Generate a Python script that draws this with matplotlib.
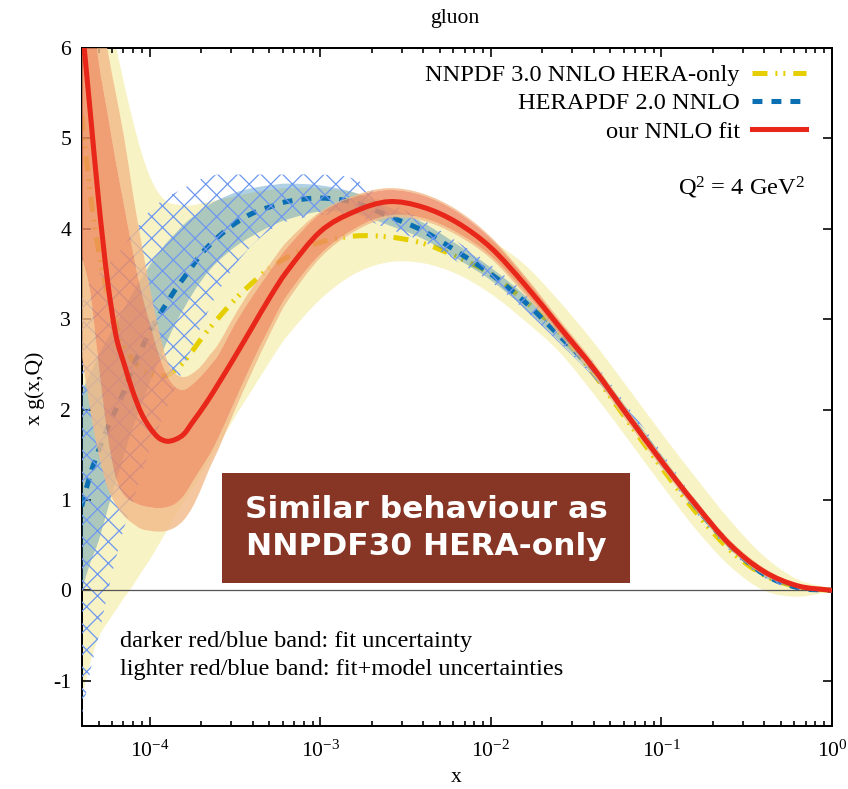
import numpy as np
import matplotlib
matplotlib.use('Agg')
import matplotlib.pyplot as plt
from matplotlib.lines import Line2D
from matplotlib.patches import Rectangle, PathPatch
from matplotlib.path import Path
from matplotlib import ticker

# ---------------- data ----------------
LOGX = [-4.4, -4.35, -4.3, -4.25, -4.2, -4.15, -4.1, -4.05, -4.0, -3.95,
        -3.9, -3.85, -3.8, -3.75, -3.7, -3.65, -3.6, -3.5, -3.4, -3.3,
        -3.2, -3.0, -2.8, -2.6, -2.4, -2.2, -2.0, -1.8, -1.6, -1.4,
        -1.2, -1.0, -0.8, -0.6, -0.4, -0.2, 0.0]

# our NNLO fit (central, red)
RED = [6.3, 5.3, 4.3, 3.45, 2.83, 2.50, 2.20, 1.96, 1.80, 1.69,
       1.65, 1.67, 1.73, 1.86, 1.99, 2.13, 2.28, 2.59, 2.91, 3.23,
       3.52, 3.97, 4.19, 4.30, 4.24, 4.07, 3.79, 3.38, 2.92, 2.46,
       1.94, 1.43, 0.95, 0.51, 0.21, 0.05, 0.0]
# darker red band: fit uncertainty
RED_FIT_LO = [3.7, 3.3, 2.5, 1.75, 1.25, 1.05, 0.98, 0.94, 0.92, 0.91,
              0.92, 0.96, 1.05, 1.20, 1.35, 1.50, 1.68, 2.10, 2.52, 2.90,
              3.25, 3.72, 4.00, 4.15, 4.12, 3.96, 3.70, 3.30, 2.86, 2.41,
              1.89, 1.39, 0.92, 0.48, 0.19, 0.04, 0.0]
RED_FIT_HI = [7.5, 6.6, 5.85, 5.3, 4.75, 4.25, 3.75, 3.3, 2.95, 2.62,
              2.38, 2.25, 2.22, 2.28, 2.37, 2.48, 2.60, 2.95, 3.25, 3.52,
              3.78, 4.17, 4.35, 4.43, 4.37, 4.19, 3.89, 3.46, 2.98, 2.51,
              1.98, 1.47, 0.98, 0.54, 0.23, 0.06, 0.0]
# lighter red band: fit + model uncertainties
RED_TOT_LO = [2.6, 2.0, 1.5, 1.15, 0.95, 0.82, 0.74, 0.68, 0.66, 0.65,
              0.66, 0.70, 0.78, 0.92, 1.12, 1.35, 1.55, 2.00, 2.42, 2.82,
              3.18, 3.68, 3.97, 4.12, 4.09, 3.93, 3.67, 3.27, 2.83, 2.38,
              1.86, 1.36, 0.89, 0.46, 0.17, 0.03, 0.0]
RED_TOT_HI = [8.0, 7.5, 6.6, 6.0, 5.5, 5.0, 4.4, 3.85, 3.35, 2.9,
              2.55, 2.40, 2.36, 2.40, 2.48, 2.60, 2.72, 3.05, 3.35, 3.60,
              3.85, 4.19, 4.37, 4.45, 4.39, 4.21, 3.91, 3.48, 3.00, 2.53,
              2.00, 1.49, 1.00, 0.56, 0.25, 0.07, 0.0]

# NNPDF 3.0 NNLO HERA-only (yellow)
NNPDF = [5.25, 4.4, 3.75, 3.3, 2.95, 2.7, 2.55, 2.45, 2.40, 2.37,
         2.38, 2.44, 2.53, 2.65, 2.78, 2.90, 3.01, 3.22, 3.40, 3.56,
         3.68, 3.85, 3.92, 3.91, 3.84, 3.69, 3.50, 3.20, 2.86, 2.40,
         1.88, 1.36, 0.87, 0.45, 0.17, 0.04, 0.0]
NNPDF_LO = [-1.2, -0.8, -0.52, -0.36, -0.22, -0.08, 0.05, 0.2, 0.34, 0.5,
            0.66, 0.82, 0.98, 1.13, 1.28, 1.44, 1.6, 1.92, 2.22, 2.52,
            2.8, 3.22, 3.5, 3.63, 3.62, 3.5, 3.28, 2.98, 2.64, 2.18,
            1.68, 1.17, 0.68, 0.27, 0.0, -0.07, -0.01]
NNPDF_HI = [8.0, 8.0, 7.5, 6.7, 6.05, 5.6, 5.2, 4.85, 4.58, 4.4,
            4.3, 4.27, 4.26, 4.26, 4.28, 4.30, 4.32, 4.36, 4.40, 4.43,
            4.45, 4.45, 4.40, 4.30, 4.20, 4.05, 3.87, 3.60, 3.20, 2.75,
            2.25, 1.74, 1.25, 0.78, 0.38, 0.12, 0.02]

# HERAPDF 2.0 NNLO (blue)
HERA = [0.93, 1.28, 1.55, 1.79, 2.0, 2.21, 2.47, 2.67, 2.86, 3.03,
        3.18, 3.33, 3.46, 3.59, 3.72, 3.82, 3.91, 4.06, 4.17, 4.24,
        4.30, 4.34, 4.29, 4.14, 3.98, 3.75, 3.50, 3.19, 2.82, 2.44,
        1.95, 1.44, 0.93, 0.50, 0.18, 0.03, 0.0]
HERA_FIT_LO = [0.0, 0.3, 0.55, 0.88, 1.2, 1.5, 1.8, 2.05, 2.3, 2.53,
               2.75, 2.95, 3.12, 3.28, 3.42, 3.54, 3.64, 3.80, 3.92, 4.02,
               4.10, 4.19, 4.17, 4.04, 3.89, 3.67, 3.43, 3.12, 2.76, 2.38,
               1.89, 1.38, 0.88, 0.46, 0.15, 0.02, 0.0]
HERA_FIT_HI = [2.2, 2.4, 2.6, 2.78, 2.95, 3.12, 3.3, 3.45, 3.6, 3.73,
               3.85, 3.95, 4.05, 4.13, 4.20, 4.27, 4.32, 4.40, 4.45, 4.48,
               4.50, 4.48, 4.40, 4.24, 4.07, 3.83, 3.57, 3.26, 2.88, 2.50,
               2.01, 1.50, 0.98, 0.54, 0.21, 0.05, 0.0]
HERA_TOT_LO = [-1.4, -0.9, -0.5, -0.05, 0.35, 0.7, 0.98, 1.28, 1.55, 1.8,
               2.02, 2.25, 2.47, 2.70, 2.92, 3.12, 3.30, 3.60, 3.82, 3.98,
               4.08, 4.15, 4.14, 4.00, 3.86, 3.64, 3.41, 3.10, 2.74, 2.36,
               1.87, 1.36, 0.86, 0.44, 0.14, 0.01, 0.0]
HERA_TOT_HI = [3.3, 3.4, 3.5, 3.6, 3.7, 3.82, 3.95, 4.08, 4.2, 4.28,
               4.35, 4.40, 4.45, 4.50, 4.55, 4.58, 4.60, 4.60, 4.60, 4.60,
               4.60, 4.60, 4.55, 4.30, 4.10, 3.86, 3.60, 3.29, 2.91, 2.53,
               2.04, 1.53, 1.00, 0.56, 0.22, 0.06, 0.0]

LEGEND_LABELS = ['NNPDF 3.0 NNLO HERA-only', 'HERAPDF 2.0 NNLO', 'our NNLO fit']
X_TICKS = [1e-4, 1e-3, 1e-2, 1e-1, 1e0]
Y_TICKS = [-1, 0, 1, 2, 3, 4, 5, 6]

# ---------------- style ----------------
plt.rcParams['font.family'] = ['Liberation Serif', 'DejaVu Serif']
plt.rcParams['mathtext.fontset'] = 'custom'
plt.rcParams['mathtext.rm'] = 'Liberation Serif'
plt.rcParams['mathtext.it'] = 'Liberation Serif:italic'
plt.rcParams['mathtext.default'] = 'regular'
plt.rcParams['axes.unicode_minus'] = False
plt.rcParams['lines.scale_dashes'] = False
plt.rcParams['hatch.linewidth'] = 0.7

C_YEL = '#E5CF00'
C_YEL_BAND = '#F8F3C4'
C_BLUE = '#0B6FB3'
C_BLUE_BAND = '#1F79B2'
C_HATCH = '#6E98F0'
C_RED = '#E8261A'
C_SALMON = '#EE8A62'
C_PEACH = '#F2BA88'
YEL_DASH = (8.3, 4.4, 1.1, 3.3, 1.1, 4.4)
BLUE_DASH = (5.5, 5.0)
LW = 2.8
FS = 12
FS_TXT = 13.5

DPI = 130
fig = plt.figure(figsize=(848 / DPI, 789 / DPI), dpi=DPI)
ax = fig.add_axes([82 / 848, 1 - 726 / 789, 750 / 848, 678 / 789])
ax.set_xscale('log')
ax.set_xlim(4e-5, 1)
ax.set_ylim(-1.5, 6)


def curve_verts(lx, y):
    """Smooth (cubic Hermite) Bezier segments through the data points,
    built in log10(x) space and returned in data coordinates."""
    lx = np.asarray(lx, float)
    y = np.asarray(y, float)
    n = len(lx)
    m = np.empty(n)
    m[1:-1] = (y[2:] - y[:-2]) / (lx[2:] - lx[:-2])
    m[0] = (y[1] - y[0]) / (lx[1] - lx[0])
    m[-1] = (y[-1] - y[-2]) / (lx[-1] - lx[-2])
    verts = [(lx[0], y[0])]
    for i in range(n - 1):
        h = lx[i + 1] - lx[i]
        verts.append((lx[i] + h / 3, y[i] + m[i] * h / 3))
        verts.append((lx[i + 1] - h / 3, y[i + 1] - m[i + 1] * h / 3))
        verts.append((lx[i + 1], y[i + 1]))
    v = np.array(verts)
    v[:, 0] = 10.0 ** v[:, 0]
    return v


def line_path(lx, y):
    v = curve_verts(lx, y)
    codes = [Path.MOVETO] + [Path.CURVE4] * (len(v) - 1)
    return Path(v, codes)


def band_path(lx, lo, hi):
    vu = curve_verts(lx, hi)
    vl = curve_verts(lx, lo)[::-1]
    verts = np.vstack([vu, vl, vu[:1]])
    codes = ([Path.MOVETO] + [Path.CURVE4] * (len(vu) - 1) +
             [Path.LINETO] + [Path.CURVE4] * (len(vl) - 1) + [Path.CLOSEPOLY])
    return Path(verts, codes)


def add_band(lo, hi, **kw):
    ax.add_patch(PathPatch(band_path(LOGX, lo, hi), **kw))


def add_line(y, color, dashes=None, zorder=2):
    ls = '-' if dashes is None else (0, dashes)
    ax.add_patch(PathPatch(line_path(LOGX, y), fill=False, edgecolor=color,
                           lw=LW, linestyle=ls, capstyle='butt',
                           joinstyle='round', zorder=zorder))


add_band(NNPDF_LO, NNPDF_HI, facecolor=C_YEL_BAND, lw=0, zorder=1)
add_line(NNPDF, C_YEL, YEL_DASH, zorder=2)
add_band(HERA_FIT_LO, HERA_FIT_HI, facecolor=C_BLUE_BAND, alpha=0.35, lw=0,
         zorder=3)
add_line(HERA, C_BLUE, BLUE_DASH, zorder=4)
add_band(HERA_TOT_LO, HERA_TOT_HI, facecolor='none', edgecolor=C_HATCH,
         hatch='xx', lw=0, zorder=5)
add_band(RED_TOT_LO, RED_FIT_LO, facecolor=C_PEACH, alpha=0.8, lw=0, zorder=6)
add_band(RED_FIT_HI, RED_TOT_HI, facecolor=C_PEACH, alpha=0.8, lw=0, zorder=6)
add_band(RED_FIT_LO, RED_FIT_HI, facecolor=C_SALMON, alpha=0.8, lw=0, zorder=7)
ax.axhline(0, color='#555555', lw=0.7, zorder=8)
add_line(RED, C_RED, None, zorder=9)

ax.xaxis.set_major_locator(ticker.FixedLocator(X_TICKS))
ax.xaxis.set_minor_locator(ticker.LogLocator(base=10, subs=np.arange(2, 10),
                                             numticks=20))
ax.xaxis.set_major_formatter(ticker.FuncFormatter(
    lambda v, p: r'10$^{%d}$' % int(round(np.log10(v)))))
ax.xaxis.set_minor_formatter(ticker.NullFormatter())
ax.set_yticks(Y_TICKS)
ax.yaxis.set_major_formatter(ticker.FuncFormatter(lambda v, p: '%d' % v))
ax.tick_params(which='both', direction='in', top=True, right=True,
               width=0.9, labelsize=FS)
ax.tick_params(which='major', length=5)
ax.tick_params(which='minor', length=2.8)
ax.tick_params(axis='x', pad=8)
ax.tick_params(axis='y', pad=6)
for s in ax.spines.values():
    s.set_linewidth(1.1)

handles = [Line2D([], [], color=C_YEL, lw=LW, dashes=YEL_DASH),
           Line2D([], [], color=C_BLUE, lw=LW, dashes=BLUE_DASH),
           Line2D([], [], color=C_RED, lw=LW)]
ax.legend(handles, LEGEND_LABELS, loc='upper right',
          bbox_to_anchor=(0.965, 0.976), markerfirst=False, frameon=False,
          fontsize=FS_TXT, handlelength=2.2, handletextpad=0.5,
          labelspacing=0.25, borderaxespad=0, borderpad=0)

ax.text(0.964, 0.794, r'Q$^2$ = 4 GeV$^2$', transform=ax.transAxes,
        ha='right', va='center', fontsize=FS_TXT, zorder=12)
ax.text(0.0507, 0.125, 'darker red/blue band: fit uncertainty',
        transform=ax.transAxes, ha='left', va='center', fontsize=FS_TXT,
        zorder=12)
ax.text(0.0507, 0.083, 'lighter red/blue band: fit+model uncertainties',
        transform=ax.transAxes, ha='left', va='center', fontsize=FS_TXT,
        zorder=12)

ax.add_patch(Rectangle((0.1867, 0.2109), 0.544, 0.1622, transform=ax.transAxes,
                       facecolor='#873524', edgecolor='none', zorder=10))
ax.text(0.4587, 0.292, 'Similar behaviour as\nNNPDF30 HERA-only',
        transform=ax.transAxes, ha='center', va='center', color='white',
        fontsize=17.3, fontweight='bold', family=['DejaVu Sans'],
        linespacing=1.35, zorder=11)

fig.text(455 / 848, 1 - 18 / 789, 'gluon', ha='center', va='center', fontsize=FS)
fig.text(35 / 848, 1 - 388 / 789, 'x g(x,Q)', ha='center', va='center',
         rotation=90, fontsize=FS)
fig.text(456 / 848, 1 - 778 / 789, 'x', ha='center', va='center', fontsize=FS)

fig.savefig('out.png', dpi=DPI)
